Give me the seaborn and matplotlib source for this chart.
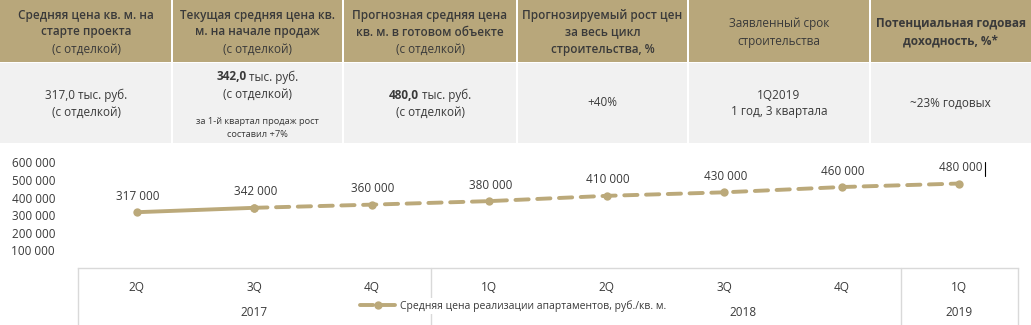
import matplotlib
matplotlib.use("Agg")
import matplotlib.pyplot as plt
import matplotlib.transforms as mtransforms
from matplotlib.patches import Rectangle
from matplotlib.lines import Line2D
import seaborn as sns
import pandas as pd
import numpy as np

# ---------------- data ----------------
quarters = ["2Q", "3Q", "4Q", "1Q", "2Q", "3Q", "4Q", "1Q"]
years = ["2017", "2018", "2019"]
year_centers = [1.0, 5.16, 7.0]
year_bounds = [-0.5, 2.5, 6.5, 7.5]
prices = [317000, 342000, 360000, 380000, 410000, 430000, 460000, 480000]
price_labels = ["317 000", "342 000", "360 000", "380 000", "410 000", "430 000", "460 000", "480 000"]
yticks = [100000, 200000, 300000, 400000, 500000, 600000]
ytick_labels = ["100 000", "200 000", "300 000", "400 000", "500 000", "600 000"]
legend_label = "Средняя цена реализации апартаментов, руб./кв. м."

header_texts = [
    ["Средняя цена кв. м. на", "старте проекта", "(с отделкой)"],
    ["Текущая средняя цена кв.", "м. на начале продаж", "(с отделкой)"],
    ["Прогнозная средняя цена", "кв. м. в готовом объекте", "(с отделкой)"],
    ["Прогнозируемый рост цен", "за весь цикл", "строительства, %"],
    ["Заявленный срок", "строительства"],
    ["Потенциальная годовая", "доходность, %*"],
]
cell_values = ["317,0 тыс. руб.", "342,0", "480,0", "+40%", "1Q2019", "~23% годовых"]
cell_units = ["", " тыс. руб.", " тыс. руб.", "", "", ""]
cell_second = ["(с отделкой)", "(с отделкой)", "(с отделкой)", "", "1 год, 3 квартала", ""]
cell_note = ["", "за 1-й квартал продаж рост\nсоставил +7%", "", "", "", ""]

# ---------------- style ----------------
GOLD = "#BBA97A"
HEAD = "#B8A77B"
ROW = "#F1F1F1"
TXT = "#3A3A3A"
GRID = "#D9D9D9"

sns.set_style("white")
plt.rcParams["font.family"] = ["Open Sans", "DejaVu Sans"]

W, H = 1031, 325
fig = plt.figure(figsize=(W / 100, H / 100), dpi=100)

def fx(x):
    return x / W

def fy(y):
    return 1 - y / H

# ---------------- table ----------------
col_edges = [0, 172, 343, 517, 688, 870, 1031]
head_top, head_bot, row_bot = 0, 62, 143
for i in range(6):
    x0, x1 = col_edges[i], col_edges[i + 1]
    l = x0 + (1 if i > 0 else 0)
    r = x1 - (1 if i < 5 else 0)
    fig.add_artist(Rectangle((fx(l), fy(head_bot)), fx(r - l), fy(head_top) - fy(head_bot),
                             transform=fig.transFigure, facecolor=HEAD, edgecolor="none"))
    fig.add_artist(Rectangle((fx(l), fy(row_bot)), fx(r - l), fy(head_bot + 1) - fy(row_bot),
                             transform=fig.transFigure, facecolor=ROW, edgecolor="none"))

head_weights = ["semibold", "semibold", "semibold", "semibold", "normal", "bold"]
for i, lines in enumerate(header_texts):
    cx = (col_edges[i] + col_edges[i + 1]) / 2
    n = len(lines)
    step = 17 if n == 3 else 18
    y0 = (head_top + head_bot) / 2 + 1 - step * (n - 1) / 2
    for k, line in enumerate(lines):
        wt = head_weights[i]
        if line.startswith("(с"):
            wt = "normal"
        fig.text(fx(cx), fy(y0 + k * step), line, ha="center", va="center",
                 fontsize=8.5, color=TXT, fontweight=wt)

fig.canvas.draw()
renderer = fig.canvas.get_renderer()

def mixed(cx, cy, bold_part, rest, size=8.5):
    t1 = fig.text(0, fy(cy), bold_part, ha="left", va="center", fontsize=size,
                  color=TXT, fontweight="bold")
    t2 = fig.text(0, fy(cy), rest, ha="left", va="center", fontsize=size, color=TXT)
    w1 = t1.get_window_extent(renderer).width
    w2 = t2.get_window_extent(renderer).width
    start = cx - (w1 + w2) / 2
    t1.set_x(fx(start))
    t2.set_x(fx(start + w1))

for i in range(6):
    cx = (col_edges[i] + col_edges[i + 1]) / 2
    if i == 1:
        mixed(cx, 77, cell_values[i], cell_units[i])
        fig.text(fx(cx), fy(94), cell_second[i], ha="center", va="center", fontsize=8.5, color=TXT)
        fig.text(fx(cx), fy(128), cell_note[i], ha="center", va="center", fontsize=6.7,
                 color=TXT, linespacing=1.5)
    elif cell_units[i]:
        mixed(cx, 95, cell_values[i], cell_units[i])
        fig.text(fx(cx), fy(112), cell_second[i], ha="center", va="center", fontsize=8.5, color=TXT)
    elif cell_second[i]:
        fig.text(fx(cx), fy(95), cell_values[i], ha="center", va="center", fontsize=8.5, color=TXT)
        fig.text(fx(cx), fy(112), cell_second[i], ha="center", va="center", fontsize=8.5, color=TXT)
    else:
        fig.text(fx(cx), fy(103), cell_values[i], ha="center", va="center", fontsize=8.5, color=TXT)

# ---------------- chart ----------------
ax_left, ax_right = 78, 1018
y_zero, y_top = 268, 162.4
ax = fig.add_axes([fx(ax_left), fy(y_zero), fx(ax_right - ax_left), fy(y_top) - fy(y_zero)])

xs = np.arange(len(prices))
df = pd.DataFrame({"x": xs, "price": prices})
fact = df.iloc[:2]
forecast = df.iloc[1:]

sns.lineplot(data=fact, x="x", y="price", ax=ax, color=GOLD, linewidth=2.8,
             marker="o", markersize=6, markeredgewidth=0, solid_capstyle="round")
sns.lineplot(data=forecast, x="x", y="price", ax=ax, color=GOLD, linewidth=2.8,
             linestyle=(0, (3.4, 2.2)), dash_capstyle="round",
             marker="o", markersize=6, markeredgewidth=0, label=legend_label)

for x, p, lab in zip(xs, prices, price_labels):
    ax.annotate(lab, (x, p), xytext=(1, 11.5), textcoords="offset points",
                ha="center", va="center", fontsize=8.5, color=TXT, annotation_clip=False)

ax.set_xlim(-0.5, len(prices) - 0.5)
ax.set_ylim(0, 600000)
ax.set_yticks(yticks)
ax.set_yticklabels(ytick_labels)
ax.set_xticks(xs)
ax.set_xticklabels(quarters)
ax.set_xlabel("")
ax.set_ylabel("")
ax.tick_params(axis="y", length=0, pad=16.5, labelsize=8.5, labelcolor=TXT)
ax.tick_params(axis="x", length=0, pad=9.5, labelsize=8.5, labelcolor=TXT)
for s in ["left", "right", "top"]:
    ax.spines[s].set_visible(False)
ax.spines["bottom"].set_color(GRID)
ax.spines["bottom"].set_linewidth(1)

blend = mtransforms.blended_transform_factory(ax.transData, fig.transFigure)
for b in year_bounds:
    ax.add_line(Line2D([b, b], [fy(y_zero), 0], transform=blend, color=GRID,
                       linewidth=1, clip_on=False, zorder=0))
for yc, yr in zip(year_centers, years):
    ax.text(yc, fy(313), yr, transform=blend, ha="center", va="center",
            fontsize=8.5, color=TXT)

leg = ax.legend(loc="center left", bbox_to_anchor=(fx(358), fy(306)),
                bbox_transform=fig.transFigure, frameon=True, fontsize=7.5,
                handlelength=3.5, handletextpad=0.3, borderpad=0.2, borderaxespad=0)
leg.get_frame().set_facecolor("white")
leg.get_frame().set_edgecolor("none")
leg.get_frame().set_alpha(1)
for t in leg.get_texts():
    t.set_color(TXT)

# text cursor mark next to the last label
fig.add_artist(Line2D([fx(985), fx(985)], [fy(176), fy(162)], transform=fig.transFigure,
                      color="black", linewidth=0.8))

fig.savefig("out.png", dpi=100)
